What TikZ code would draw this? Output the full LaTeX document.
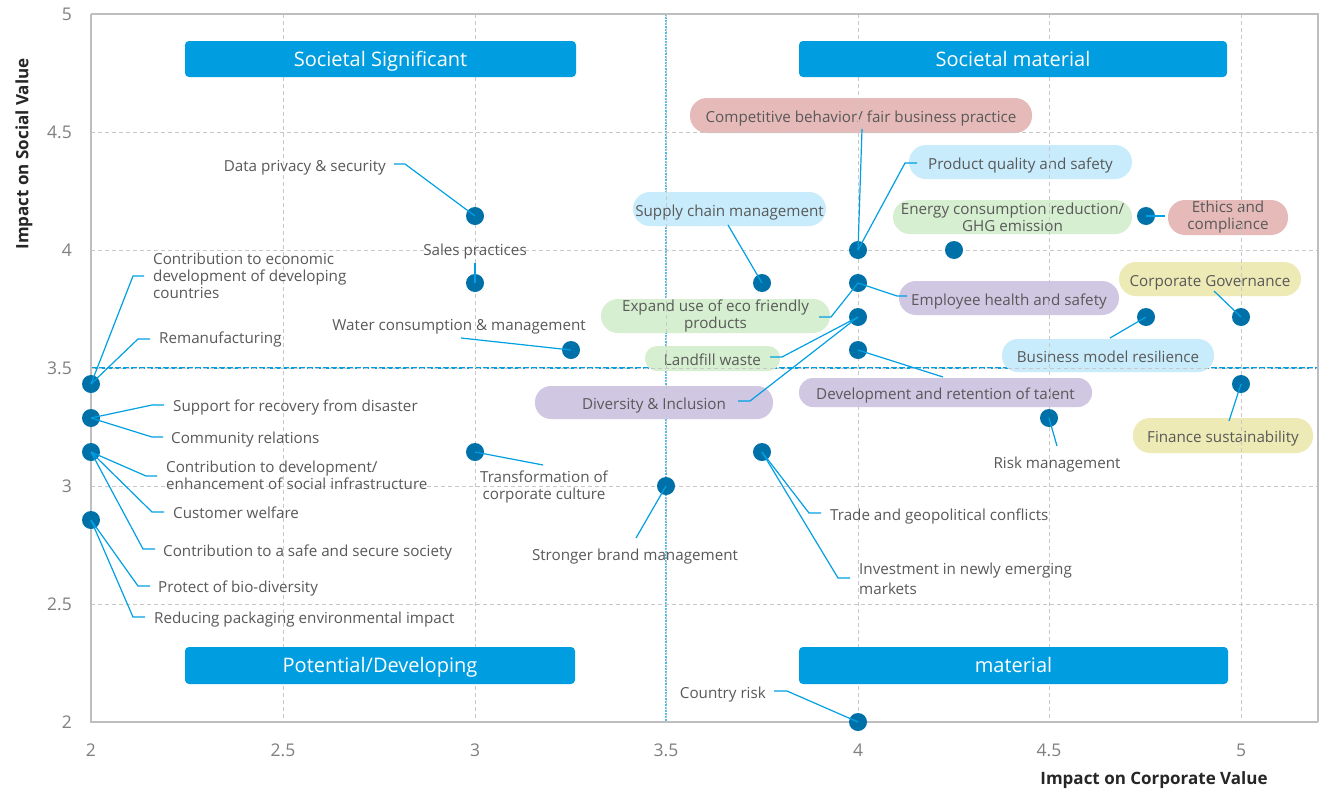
\documentclass[tikz,border=0pt]{standalone}
\usepackage{fontspec}
\setmainfont{Open Sans}
\newcommand\mylblfont{\fontsize{15.2}{17}\selectfont}
\newcommand\mylblfontb{\fontsize{15.2}{20}\selectfont}
\newcommand\myquadfont{\fontsize{20}{24}\selectfont}
\newcommand\mytickfont{\fontsize{17.5}{20}\selectfont}
\newcommand\mytitlefont{\fontsize{17}{20}\selectfont\bfseries}
\definecolor{ptc}{RGB}{0,112,168}
\definecolor{leadc}{RGB}{0,160,227}
\definecolor{quadc}{RGB}{0,158,224}
\definecolor{txt}{RGB}{89,89,89}
\definecolor{tickc}{RGB}{128,128,128}
\definecolor{gridc}{RGB}{200,200,200}
\definecolor{axisc}{RGB}{190,190,190}
\definecolor{pblue}{RGB}{200,236,252}
\definecolor{ppink}{RGB}{230,186,185}
\definecolor{pgreen}{RGB}{214,239,208}
\definecolor{ppurple}{RGB}{208,199,227}
\definecolor{pyellow}{RGB}{238,234,181}
\definecolor{titc}{RGB}{38,38,38}
\begin{document}
\begin{tikzpicture}[x=1pt,y=-1pt,
  gridln/.style={gridc, line width=1pt, dash pattern=on 4pt off 3pt},
  lead/.style={leadc, line width=1.2pt},
  ptnode/.style={circle, fill=ptc, minimum size=18pt, inner sep=0pt},
  lb/.style={inner sep=0pt, text=txt, font=\mylblfont, text height=10.9pt, text depth=0pt},
  ml/.style={inner sep=0pt, text=txt, font=\mylblfont, align=left},
  pill/.style={rectangle, rounded corners=#1, inner sep=0pt, text=txt, font=\mylblfont},
  pill/.default=17,
  sl/.style={text height=14.6pt, text depth=0pt},
  quad/.style={rectangle, rounded corners=4pt, fill=quadc, text=white, font=\myquadfont, inner sep=0pt, text height=14.3pt, text depth=0pt},
  tick/.style={text=tickc, font=\mytickfont, inner sep=0pt, text height=12.5pt, text depth=0pt},
  axtitle/.style={text=titc, font=\mytitlefont, inner sep=0pt}
]
\useasboundingbox (0,0) rectangle (1321,790);
\fill[white] (0,0) rectangle (1321,790);

% quadrant divider lines (under the pills)
\draw[leadc, line width=2pt, dash pattern=on 6pt off 2pt] (91,368) -- (1318,368);
\draw[leadc!70, line width=1.2pt, dash pattern=on 2pt off 1pt] (666,14) -- (666,722);

% pills
\node[pill, sl, fill=pblue, minimum width=193, minimum height=34] (sc) at (729.5,209) {Supply chain management};
\node[pill, sl, fill=ppink, minimum width=342, minimum height=35] (cb) at (861,115.5) {Competitive behavior/ fair business practice};
\node[pill, sl, fill=pblue, minimum width=223, minimum height=34] (pq) at (1020.5,162) {Product quality and safety};
\node[pill, fill=pgreen, minimum width=239, minimum height=34, align=center] (en) at (1012.5,217) {Energy consumption reduction/\\GHG emission};
\node[pill, fill=ppink, minimum width=120, minimum height=35, align=center] (et) at (1228,217.5) {Ethics and\\compliance};
\node[pill, fill=pgreen, minimum width=229, minimum height=34, align=center] (ex) at (715.5,316) {Expand use of eco friendly\\products};
\node[pill, sl, fill=ppurple, minimum width=220, minimum height=34] (eh) at (1009,298) {Employee health and safety};
\node[pill=12, sl, fill=pgreen, minimum width=135, minimum height=25] (lw) at (712.5,358.5) {Landfill waste};
\node[pill=16, sl, fill=ppurple, minimum width=238, minimum height=33] (di) at (654,402.5) {Diversity \& Inclusion};
\node[pill=14, sl, fill=ppurple, minimum width=293, minimum height=29] (dr) at (945.5,392.5) {Development and retention of talent};
\node[pill=16, sl, fill=pblue, minimum width=212, minimum height=33] (bm) at (1108,355.5) {Business model resilience};
\node[pill, sl, fill=pyellow, minimum width=182, minimum height=34] (cg) at (1210,279) {Corporate Governance};
\node[pill, sl, fill=pyellow, minimum width=180, minimum height=35] (fs) at (1223,435.5) {Finance sustainability};

% grid
\foreach \x in {283,475,666,858,1049,1241} \draw[gridln] (\x,14) -- (\x,722);
\foreach \y in {132,250,368,486,604} \draw[gridln] (91,\y) -- (1318,\y);

% frame and axes
\draw[axisc, line width=1.5pt] (91,14) -- (1318,14) -- (1318,722);
\draw[axisc, line width=2pt] (91,14) -- (91,722) -- (1318,722);

% tick labels
\foreach \v/\x in {2/91,2.5/283,3/475,3.5/666,4/858,4.5/1049,5/1241}
  \node[tick] at (\x,750) {\v};
\foreach \v/\y in {5/14,4.5/132,4/250,3.5/368,3/486,2.5/604,2/722}
  \node[tick, anchor=east] at (72,\y) {\v};

% axis titles
\node[axtitle] (xt) at (1154,780) {Impact on Corporate Value};
\node[axtitle, rotate=90] (yt) at (24,154) {Impact on Social Value};

% quadrant boxes
\node[quad, minimum width=391, minimum height=36] (qss) at (380.5,59) {Societal Significant};
\node[quad, minimum width=428, minimum height=36] (qsm) at (1013,59) {Societal material};
\node[quad, minimum width=390, minimum height=37] (qpd) at (380,665.5) {Potential/Developing};
\node[quad, minimum width=429, minimum height=37] (qm) at (1013.5,665.5) {material};

% plain labels
\node[lb, anchor=east] (tDP) at (386,166) {Data privacy \& security};
\node[lb] (tSP) at (475,250) {Sales practices};
\node[lb, anchor=east] (tWC) at (586,325) {Water consumption \& management};
\node[lb] (tRM) at (1057,463) {Risk management};
\node[ml, align=center] (tTC) at (544,487) {Transformation of\\corporate culture};
\node[lb] (tBR) at (635,555) {Stronger brand management};
\node[lb, anchor=west] (tTG) at (830,515) {Trade and geopolitical conflicts};
\node[ml, anchor=west, font=\mylblfontb] (tIN) at (859,579) {Investment in newly emerging\\markets};
\node[lb, anchor=east] (tCR) at (766,693) {Country risk};
\node[ml, anchor=west] (tL1) at (153,276) {Contribution to economic\\development of developing\\countries};
\node[lb, anchor=west] (tL2) at (159,338) {Remanufacturing};
\node[lb, anchor=west] (tL3) at (173,406) {Support for recovery from disaster};
\node[lb, anchor=west] (tL4) at (171,438) {Community relations};
\node[ml, anchor=west] (tL5) at (166,475) {Contribution to development/\\enhancement of social infrastructure};
\node[lb, anchor=west] (tL6) at (173,513) {Customer welfare};
\node[lb, anchor=west] (tL7) at (163,551) {Contribution to a safe and secure society};
\node[lb, anchor=west] (tL8) at (158,587) {Protect of bio-diversity};
\node[lb, anchor=west] (tL9) at (154,618) {Reducing packaging environmental impact};

% data points
\node[ptnode] (pDP) at (475,216) {};
\node[ptnode] (pSP) at (475,283) {};
\node[ptnode] (pWC) at (571,350) {};
\node[ptnode] (pSC) at (762,283) {};
\node[ptnode] (pA) at (858,250) {};
\node[ptnode] (pB) at (858,283) {};
\node[ptnode] (pC) at (858,317) {};
\node[ptnode] (pD) at (858,350) {};
\node[ptnode] (pEN) at (954,250) {};
\node[ptnode] (pET) at (1146,216) {};
\node[ptnode] (pBM) at (1146,317) {};
\node[ptnode] (pCG) at (1241,317) {};
\node[ptnode] (pFS) at (1241,384) {};
\node[ptnode] (pRM) at (1049,418) {};
\node[ptnode] (pTG) at (762,452) {};
\node[ptnode] (pBR) at (666,486) {};
\node[ptnode] (pTC) at (475,452) {};
\node[ptnode] (pL1) at (91,384) {};
\node[ptnode] (pL2) at (91,418) {};
\node[ptnode] (pL3) at (91,452) {};
\node[ptnode] (pL4) at (91,520) {};
\node[ptnode] (pCR) at (858,722) {};

% leader coordinates
\coordinate (c1a) at (133,276); \coordinate (c1b) at (144,276);
\coordinate (c2a) at (138,339); \coordinate (c2b) at (150,339);
\coordinate (c3a) at (152,405); \coordinate (c3b) at (164,405);
\coordinate (c4a) at (152,437); \coordinate (c4b) at (163,437);
\coordinate (c5a) at (146,476); \coordinate (c5b) at (157,476);
\coordinate (c6a) at (152,512); \coordinate (c6b) at (164,512);
\coordinate (c7a) at (143,549); \coordinate (c7b) at (155,549);
\coordinate (c8a) at (138,586); \coordinate (c8b) at (150,586);
\coordinate (c9a) at (133,617); \coordinate (c9b) at (145,617);
\coordinate (dpa) at (405,164); \coordinate (dpb) at (394,164);
\coordinate (spb) at (475,263);
\coordinate (wcb) at (461,338);
\coordinate (scb) at (728,225);
\coordinate (cbb) at (862,129);
\coordinate (pqa) at (905,163); \coordinate (pqb) at (917,163);
\coordinate (etb) at (1165,216);
\coordinate (exa) at (831,317); \coordinate (exb) at (819,317);
\coordinate (eha) at (897,296); \coordinate (ehb) at (907,296);
\coordinate (lwa) at (782,357); \coordinate (lwb) at (770,357);
\coordinate (dia) at (750,401); \coordinate (dib) at (738,401);
\coordinate (drb) at (943,377);
\coordinate (bmb) at (1110,338);
\coordinate (cgb) at (1214,291);
\coordinate (fsb) at (1229,421);
\coordinate (rmb) at (1057,446);
\coordinate (tcb) at (543,465);
\coordinate (brb) at (636,538);
\coordinate (tga) at (809,513); \coordinate (tgb) at (821,513);
\coordinate (ina) at (838,578); \coordinate (inb) at (850,578);
\coordinate (cra) at (787,691); \coordinate (crb) at (774,691);

% leaders
\draw[lead] (pL1.center) -- (c1a) -- (c1b);
\draw[lead] (pL1.center) -- (c2a) -- (c2b);
\draw[lead] (pL2.center) -- (c3a) -- (c3b);
\draw[lead] (pL2.center) -- (c4a) -- (c4b);
\draw[lead] (pL3.center) -- (c5a) -- (c5b);
\draw[lead] (pL3.center) -- (c6a) -- (c6b);
\draw[lead] (pL3.center) -- (c7a) -- (c7b);
\draw[lead] (pL4.center) -- (c8a) -- (c8b);
\draw[lead] (pL4.center) -- (c9a) -- (c9b);
\draw[lead] (pDP.center) -- (dpa) -- (dpb);
\draw[lead] (pSP.center) -- (spb);
\draw[lead] (pWC.center) -- (wcb);
\draw[lead] (pSC.center) -- (scb);
\draw[lead] (pA.center) -- (cbb);
\draw[lead] (pA.center) -- (pqa) -- (pqb);
\draw[lead] (pET.center) -- (etb);
\draw[lead] (pB.center) -- (exa) -- (exb);
\draw[lead] (pB.center) -- (eha) -- (ehb);
\draw[lead] (pC.center) -- (lwa) -- (lwb);
\draw[lead] (pC.center) -- (dia) -- (dib);
\draw[lead] (pD.center) -- (drb);
\draw[lead] (pBM.center) -- (bmb);
\draw[lead] (pCG.center) -- (cgb);
\draw[lead] (pFS.center) -- (fsb);
\draw[lead] (pRM.center) -- (rmb);
\draw[lead] (pTC.center) -- (tcb);
\draw[lead] (pBR.center) -- (brb);
\draw[lead] (pTG.center) -- (tga) -- (tgb);
\draw[lead] (pTG.center) -- (ina) -- (inb);
\draw[lead] (pCR.center) -- (cra) -- (crb);
\end{tikzpicture}
\end{document}
